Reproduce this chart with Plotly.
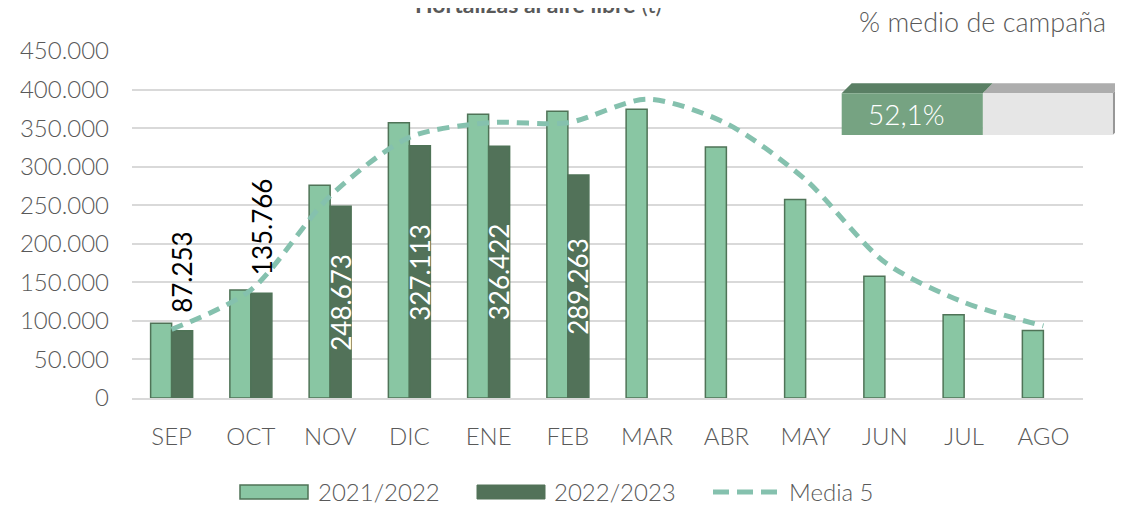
import plotly.graph_objects as go

# ---------------- data ----------------
months = ["SEP", "OCT", "NOV", "DIC", "ENE", "FEB", "MAR", "ABR", "MAY", "JUN", "JUL", "AGO"]
s_2021_2022 = [97000, 140000, 276000, 357000, 368000, 372000, 374500, 325500, 257500, 158000, 108000, 87500]
s_2022_2023 = [87253, 135766, 248673, 327113, 326422, 289263, None, None, None, None, None, None]
media5 = [89000, 140000, 262000, 338000, 357000, 357000, 387500, 356000, 283000, 176000, 124000, 93500]
pct_campaign = 52.1
y_ticks = list(range(0, 450001, 50000))

title_text = "<b>Hortalizas al aire libre</b> (t)"
pct_title = "% medio de campaña"
legend_names = ["2021/2022", "2022/2023", "Media 5"]

# ---------------- style ----------------
OFF = 8  # page body margin offset
W, H = 1123, 506
PL, PT, PR, PB = 132, 51, 1083, 398  # plot area in page pixels
ML, MT = PL - OFF, PT - OFF
PW, PH = PR - PL, PB - PT
MR = W - ML - PW
MB = H - MT - PH
BARGAP = 0.47
C_LIGHT = "#89C6A3"
C_DARK = "#527259"
C_EDGE = "#4F7357"
C_LINE = "#85C1AE"
C_TEXT = "#595959"
C_GRID = "#D9D9D9"
FONT = "Lato"
WT = 300


def px(x):
    return (x - PL) / PW


def py(y):
    return (PB - y) / PH


fig = go.Figure()

fig.add_trace(go.Bar(
    x=months, y=s_2021_2022, name=legend_names[0],
    marker=dict(color=C_LIGHT, line=dict(color=C_EDGE, width=1.5)),
    showlegend=False,
))
fig.add_trace(go.Bar(
    x=months, y=s_2022_2023, name=legend_names[1],
    marker=dict(color=C_DARK, line=dict(color=C_EDGE, width=1.5)),
    showlegend=False,
))
fig.add_trace(go.Scatter(
    x=months, y=media5, name=legend_names[2], mode="lines",
    line=dict(color=C_LINE, width=5, dash="12px,8px", shape="spline", smoothing=0.8),
    showlegend=False,
))

shapes = []
annotations = []

# ---------- data labels of 2022/2023 (drawn above the line) ----------
dark_offset = (1 - BARGAP) / 4  # centre of the second bar within the group, in category units
for i, v in enumerate(s_2022_2023):
    if v is None:
        continue
    s = f"{v:,}".replace(",", ".")
    outside = v < 200000
    annotations.append(dict(
        text=s, x=i + dark_offset, y=v if outside else v / 2, xref="x", yref="y",
        xanchor="center", yanchor="bottom" if outside else "middle",
        yshift=16 if outside else 0, textangle=-90, showarrow=False,
        font=dict(family=FONT, size=26, color="black" if outside else "white"),
    ))

# ---------- manual legend ----------
ly = 492
shapes.append(dict(type="rect", xref="paper", yref="paper",
                   x0=px(240), x1=px(308), y0=py(499), y1=py(485),
                   fillcolor=C_LIGHT, line=dict(color=C_EDGE, width=1.5)))
shapes.append(dict(type="rect", xref="paper", yref="paper",
                   x0=px(477), x1=px(545), y0=py(499), y1=py(485),
                   fillcolor=C_DARK, line=dict(color=C_DARK, width=1)))
shapes.append(dict(type="line", xref="paper", yref="paper",
                   x0=px(713), x1=px(778), y0=py(ly), y1=py(ly),
                   line=dict(color=C_LINE, width=5, dash="16px,8px")))
for name, x0 in zip(legend_names, [316, 552, 787]):
    annotations.append(dict(text=name, xref="paper", yref="paper", x=px(x0), y=py(ly),
                            xanchor="left", yanchor="middle", showarrow=False,
                            font=dict(family=FONT, size=24, color=C_TEXT, weight=WT)))

# ---------- title (cut off at top, as in the source) ----------
annotations.append(dict(text=title_text, xref="paper", yref="paper", x=px(538), y=py(20),
                        xanchor="center", yanchor="bottom", showarrow=False,
                        font=dict(family=FONT, size=23, color=C_TEXT)))

# ---------- % medio de campaña box ----------
annotations.append(dict(text=pct_title, xref="paper", yref="paper", x=px(1108), y=py(21),
                        xanchor="right", yanchor="middle", showarrow=False,
                        font=dict(family=FONT, size=27, color=C_TEXT, weight=WT)))

bx0, bx1, by0, by1, d = 841.7, 1112.7, 93.3, 135.0, 10
bxm = bx0 + (bx1 - bx0) * pct_campaign / 100.0


def path(pts):
    return "M " + " L ".join(f"{px(a)},{py(b)}" for a, b in pts) + " Z"


shapes += [
    dict(type="path", xref="paper", yref="paper", path=path([(bx0, by0), (bx0 + d, by0 - d), (bxm + d, by0 - d), (bxm, by0)]),
         fillcolor="#5A7F64", line=dict(width=0)),
    dict(type="path", xref="paper", yref="paper", path=path([(bxm, by0), (bxm + d, by0 - d), (bx1 + d, by0 - d), (bx1, by0)]),
         fillcolor="#ADADAD", line=dict(width=0)),
    dict(type="path", xref="paper", yref="paper", path=path([(bx1, by0), (bx1 + d, by0 - d), (bx1 + d, by1 - d), (bx1, by1)]),
         fillcolor="#979797", line=dict(width=0)),
    dict(type="path", xref="paper", yref="paper", path=path([(bx0, by0), (bxm, by0), (bxm, by1), (bx0, by1)]),
         fillcolor="#76A382", line=dict(width=0)),
    dict(type="path", xref="paper", yref="paper", path=path([(bxm, by0), (bx1, by0), (bx1, by1), (bxm, by1)]),
         fillcolor="#E6E6E6", line=dict(width=0)),
]
pct_label = f"{pct_campaign:.1f}".replace(".", ",") + "%"
annotations.append(dict(text=pct_label, xref="paper", yref="paper", x=px(906), y=py(114),
                        xanchor="center", yanchor="middle", showarrow=False,
                        font=dict(family=FONT, size=28, color="white", weight=WT)))

fig.update_layout(
    width=W, height=H,
    margin=dict(l=ML, r=MR, t=MT, b=MB, pad=0),
    paper_bgcolor="white", plot_bgcolor="white",
    barmode="group", bargap=BARGAP, bargroupgap=0,
    separators=",.",
    font=dict(family=FONT, color=C_TEXT),
    shapes=shapes, annotations=annotations,
    showlegend=False,
)
fig.update_xaxes(
    showgrid=False, showline=True, linecolor=C_GRID, linewidth=1.5,
    ticks="", tickfont=dict(family=FONT, size=24, color=C_TEXT, weight=WT),
    ticklabelstandoff=16,
)
fig.update_yaxes(
    range=[0, 450000], tickvals=y_ticks, tickformat=",d",
    showgrid=True, gridcolor=C_GRID, gridwidth=1.5, zeroline=False,
    showline=False, ticks="",
    tickfont=dict(family=FONT, size=24, color=C_TEXT, weight=WT),
    ticklabelstandoff=22,
)

fig.write_html("out.html")
